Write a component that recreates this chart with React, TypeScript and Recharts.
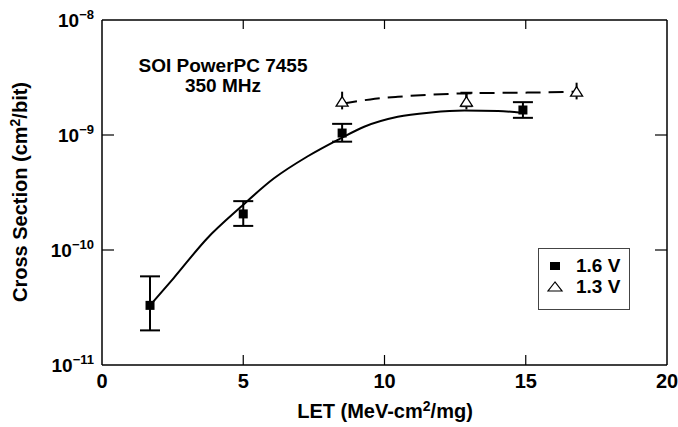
import { ComposedChart, Scatter, Line, XAxis, YAxis, ErrorBar, Legend } from "recharts";

const FONT = "'Liberation Sans', Arial, Helvetica, sans-serif";

// 1.6 V measurements (filled squares)
const sqX = [1.7, 5.0, 8.5, 14.9];
const sqY = [3.3e-11, 2.06e-10, 1.04e-9, 1.65e-9];
const sqLo = [2.0e-11, 1.62e-10, 0.875e-9, 1.41e-9];
const sqHi = [5.9e-11, 2.66e-10, 1.25e-9, 1.93e-9];

// 1.3 V measurements (open triangles); only the middle one has a cap on its top whisker
const triX = [8.5, 12.9, 16.8];
const triY = [1.95e-9, 1.95e-9, 2.38e-9];
const triLo = [1.67e-9, 1.67e-9, 2.04e-9];
const triHi = [2.38e-9, 2.33e-9, 2.85e-9];
const triCapped = [false, true, false];

// fitted curves
const fitX = [1.7, 2.53, 3.72, 4.9, 6.09, 7.27, 8.45, 9.28, 10.47, 11.65, 12.83, 14.02, 14.85];
const fitY = [3.3e-11, 5.67e-11, 1.26e-10, 2.35e-10, 4.2e-10, 6.5e-10, 9.35e-10, 1.18e-9, 1.44e-9, 1.57e-9, 1.63e-9, 1.62e-9, 1.56e-9];
const dashX = [8.5, 9.5, 10.47, 12.83, 15.2, 16.8];
const dashY = [1.87e-9, 2.04e-9, 2.15e-9, 2.3e-9, 2.34e-9, 2.38e-9];

const xTicks = [0, 5, 10, 15, 20];
const xInnerTicks = [5, 10, 15];
const yTicks = [1e-11, 1e-10, 1e-9, 1e-8];
const yInnerTicks = [1e-10, 1e-9];
const legendLabels = ["1.6 V", "1.3 V"];

const squares = sqX.map((x, i) => ({ x, y: sqY[i], err: [sqY[i] - sqLo[i], sqHi[i] - sqY[i]] }));
const triangles = triX.map((x, i) => ({
  x,
  y: triY[i],
  err: [triY[i] - triLo[i], triHi[i] - triY[i]],
  // lower end tucked under the triangle's base so only the top cap shows
  cap: triCapped[i] ? [triY[i] * 0.086, triHi[i] - triY[i]] : undefined,
}));
const fit = fitX.map((x, i) => ({ x, y: fitY[i] }));
const dash = dashX.map((x, i) => ({ x, y: dashY[i] }));

const noLabel = () => <g />;

function Square(props: any) {
  const { cx, cy } = props;
  return <rect x={cx - 4.5} y={cy - 4.5} width={9} height={9} fill="#000" />;
}

function Triangle(props: any) {
  const { cx, cy } = props;
  return (
    <polygon
      points={`${cx},${cy - 5} ${cx - 6},${cy + 4.5} ${cx + 6},${cy + 4.5}`}
      fill="#fff"
      stroke="#000"
      strokeWidth={1.3}
    />
  );
}

// label plus the inward tick mark (tickSize 0, tickMargin 8 => axis sits 8px from x)
function YTick(props: any) {
  const { x, y, payload } = props;
  const exp = Math.round(Math.log10(payload.value));
  const inner = yInnerTicks.some((t) => Math.abs(Math.log10(t) - exp) < 1e-6);
  return (
    <g>
      {inner && <path d={`M${x + 8},${y}H${x + 20}`} stroke="#000" strokeWidth={1.2} />}
      <text x={x} y={y} textAnchor="end" fontFamily={FONT} fontWeight={700} fontSize={19} fill="#000">
        <tspan dy={7}>10</tspan>
        <tspan dy={-8} fontSize={13}>{"\u2212" + Math.abs(exp)}</tspan>
      </text>
    </g>
  );
}

function XTick(props: any) {
  const { x, y, payload } = props;
  const inner = xInnerTicks.includes(Number(payload.value));
  return (
    <g>
      {inner && <path d={`M${x},${y - 8}V${y - 18}`} stroke="#000" strokeWidth={1.2} />}
      <text x={x} y={y + 15} textAnchor="middle" fontFamily={FONT} fontWeight={700} fontSize={20} fill="#000">
        {payload.value}
      </text>
    </g>
  );
}

function LegendBox() {
  return (
    <div
      style={{
        boxSizing: "border-box",
        width: 92,
        height: 62,
        border: "1px solid #444",
        background: "#fff",
        fontFamily: FONT,
        fontWeight: 700,
        fontSize: 19,
        padding: "6px 0 0 8px",
        lineHeight: "20px",
      }}
    >
      {legendLabels.map((label, i) => (
        <div key={label} style={{ display: "flex", alignItems: "center", height: 21 }}>
          <svg width={18} height={14} style={{ marginRight: 11 }}>
            {i === 0 ? (
              <rect x={3} y={3} width={10} height={8} fill="#000" />
            ) : (
              <polygon points="8,2 1,11 15,11" fill="#fff" stroke="#000" strokeWidth={1.2} />
            )}
          </svg>
          <span>{label}</span>
        </div>
      ))}
    </div>
  );
}

export default function App() {
  return (
    <div style={{ width: 678, height: 427, background: "#fff" }}>
      <style>{"body{margin:0;background:#fff}"}</style>
      <ComposedChart width={678} height={427} margin={{ top: 20, right: 11, left: 0, bottom: 0 }}>
        <XAxis
          xAxisId="main"
          type="number"
          dataKey="x"
          domain={[0, 20]}
          ticks={xTicks}
          interval={0}
          allowDataOverflow
          height={62}
          tickLine={false}
          tickSize={0}
          tickMargin={8}
          axisLine={{ stroke: "#000", strokeWidth: 1.5 }}
          tick={<XTick />}
        />
        <XAxis
          xAxisId="top"
          orientation="top"
          type="number"
          dataKey="x"
          domain={[0, 20]}
          ticks={xInnerTicks}
          interval={0}
          allowDataOverflow
          mirror
          height={1}
          tick={noLabel}
          tickSize={9}
          axisLine={{ stroke: "#000", strokeWidth: 1.5 }}
          tickLine={{ stroke: "#000", strokeWidth: 1.2 }}
        />
        <YAxis
          yAxisId="left"
          type="number"
          dataKey="y"
          scale="log"
          domain={[1e-11, 1e-8]}
          ticks={yTicks}
          interval={0}
          allowDataOverflow
          width={102}
          tickLine={false}
          tickSize={0}
          tickMargin={8}
          axisLine={{ stroke: "#000", strokeWidth: 1.5 }}
          tick={<YTick />}
        />
        <YAxis
          yAxisId="rin"
          orientation="right"
          type="number"
          scale="log"
          domain={[1e-11, 1e-8]}
          ticks={yInnerTicks}
          interval={0}
          allowDataOverflow
          mirror
          width={1}
          tick={noLabel}
          tickSize={12}
          axisLine={{ stroke: "#000", strokeWidth: 1.5 }}
          tickLine={{ stroke: "#000", strokeWidth: 1.2 }}
        />

        <Line
          xAxisId="main"
          yAxisId="left"
          data={fit}
          dataKey="y"
          type="monotone"
          stroke="#000"
          strokeWidth={2}
          dot={false}
          activeDot={false}
          isAnimationActive={false}
          legendType="none"
        />
        <Line
          xAxisId="main"
          yAxisId="left"
          data={dash}
          dataKey="y"
          type="monotone"
          stroke="#000"
          strokeWidth={2}
          strokeDasharray="15 8"
          dot={false}
          activeDot={false}
          isAnimationActive={false}
          legendType="none"
        />
        <Scatter
          xAxisId="main"
          yAxisId="left"
          name="1.6 V"
          data={squares}
          dataKey="y"
          shape={<Square />}
          isAnimationActive={false}
        >
          <ErrorBar dataKey="err" direction="y" width={10} stroke="#000" strokeWidth={2} isAnimationActive={false} />
        </Scatter>
        <Scatter
          xAxisId="main"
          yAxisId="left"
          name="1.3 V"
          data={triangles}
          dataKey="y"
          shape={<Triangle />}
          isAnimationActive={false}
        >
          <ErrorBar dataKey="err" direction="y" width={0} stroke="#000" strokeWidth={2} isAnimationActive={false} />
          <ErrorBar dataKey="cap" direction="y" width={6} stroke="#000" strokeWidth={2} isAnimationActive={false} />
        </Scatter>

        <Legend
          layout="vertical"
          align="center"
          verticalAlign="middle"
          wrapperStyle={{ position: "absolute", left: 538, top: 248, width: 92, height: 62 }}
          content={() => <LegendBox />}
        />

        <text x={223} y={72} textAnchor="middle" fontFamily={FONT} fontWeight={700} fontSize={19} fill="#000">
          SOI PowerPC 7455
        </text>
        <text x={223} y={92} textAnchor="middle" fontFamily={FONT} fontWeight={700} fontSize={19} fill="#000">
          350 MHz
        </text>
        <text x={385} y={418} textAnchor="middle" fontFamily={FONT} fontWeight={700} fontSize={20} fill="#000">
          LET (MeV-cm
          <tspan dy={-7} fontSize={14}>2</tspan>
          <tspan dy={7}>/mg)</tspan>
        </text>
        <text
          x={0}
          y={0}
          transform="translate(27 192) rotate(-90)"
          textAnchor="middle"
          fontFamily={FONT}
          fontWeight={700}
          fontSize={20}
          fill="#000"
        >
          Cross Section (cm
          <tspan dy={-7} fontSize={14}>2</tspan>
          <tspan dy={7}>/bit)</tspan>
        </text>
      </ComposedChart>
    </div>
  );
}
